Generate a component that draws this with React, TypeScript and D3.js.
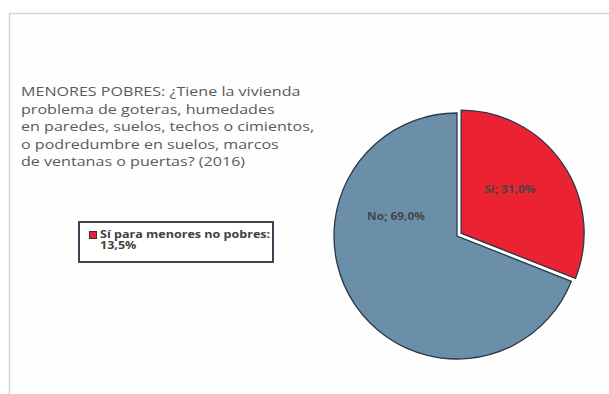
import React from "react";
import * as d3 from "d3";

const categories = ["Sí", "No"];
const values = [31.0, 69.0];
const labels = ["Sí; 31,0%", "No; 69,0%"];
const titleLines = [
  "MENORES POBRES: ¿Tiene la vivienda",
  "problema de goteras, humedades",
  "en paredes, suelos, techos o cimientos,",
  "o podredumbre en suelos, marcos",
  "de ventanas o puertas? (2016)",
];
const legendLines = ["Sí para menores no pobres:", "13,5%"];
const colors = ["#EA2232", "#6B8FA9"];

export default function App() {
  const W = 609, H = 394;
  const cx = 457, cy = 236, r = 123;
  const explode = 5;
  const data = categories.map((c, i) => ({ c, v: values[i], label: labels[i], color: colors[i] }));
  const pie = d3.pie<any>().sort(null).value((d: any) => d.v).startAngle(0).endAngle(2 * Math.PI);
  const arcs = pie(data);
  const arc = d3.arc<any>().innerRadius(0).outerRadius(r);
  // label placement (Excel best-fit style): radius fraction and angle shift per slice
  const labelPos = [
    { rf: 0.57, da: -0.12 },
    { rf: 0.52, da: 0.9 },
  ];
  const font = "'Open Sans', sans-serif";
  return (
    <svg width={W} height={H} style={{ position: "absolute", left: 0, top: 0, background: "#fff" }}>
      <rect x={9.5} y={13.5} width={W} height={H} fill="#fefefe" stroke="#d4d4d4" strokeWidth={1.5} />
      <g fontFamily={font}>
        {titleLines.map((t, i) => (
          <text key={i} transform={`translate(21,${96 + i * 17.6}) scale(1.2,1)`} fontSize={13.4} fill="#5a5a5a">{t}</text>
        ))}
      </g>
      <rect x={79} y={222} width={194} height={40} fill="#fff" stroke="#3c4350" strokeWidth={2} />
      <rect x={89.5} y={231.5} width={7} height={7} fill={colors[0]} stroke="#333" strokeWidth={1} />
      <g fontFamily={font} fontWeight="bold" fontSize={9.8} fill="#404040">
        <text transform="translate(100,237.5) scale(1.28,1)">{legendLines[0]}</text>
        <text transform="translate(100,249) scale(1.28,1)">{legendLines[1]}</text>
      </g>
      <g transform={`translate(${cx},${cy})`}>
        {arcs.map((a, i) => {
          const mid = (a.startAngle + a.endAngle) / 2;
          const off = i === 0 ? explode : 0;
          const dx = Math.sin(mid) * off, dy = -Math.cos(mid) * off;
          return (
            <g key={i} transform={`translate(${dx},${dy})`}>
              <path d={arc(a) as string} fill={a.data.color} stroke="#fff" strokeWidth={4} />
              <path d={arc(a) as string} fill={a.data.color} stroke="#2b3848" strokeWidth={1.3} />
            </g>
          );
        })}
        {arcs.map((a, i) => {
          const mid = (a.startAngle + a.endAngle) / 2 + labelPos[i].da;
          const rr = r * labelPos[i].rf;
          const lx = Math.sin(mid) * rr, ly = -Math.cos(mid) * rr;
          return (
            <text key={"l" + i} transform={`translate(${lx},${ly}) scale(1.1,1)`} textAnchor="middle" dominantBaseline="middle"
              fontFamily={font} fontWeight="bold" fontSize={10.8} fill="#454545">{a.data.label}</text>
          );
        })}
      </g>
    </svg>
  );
}
